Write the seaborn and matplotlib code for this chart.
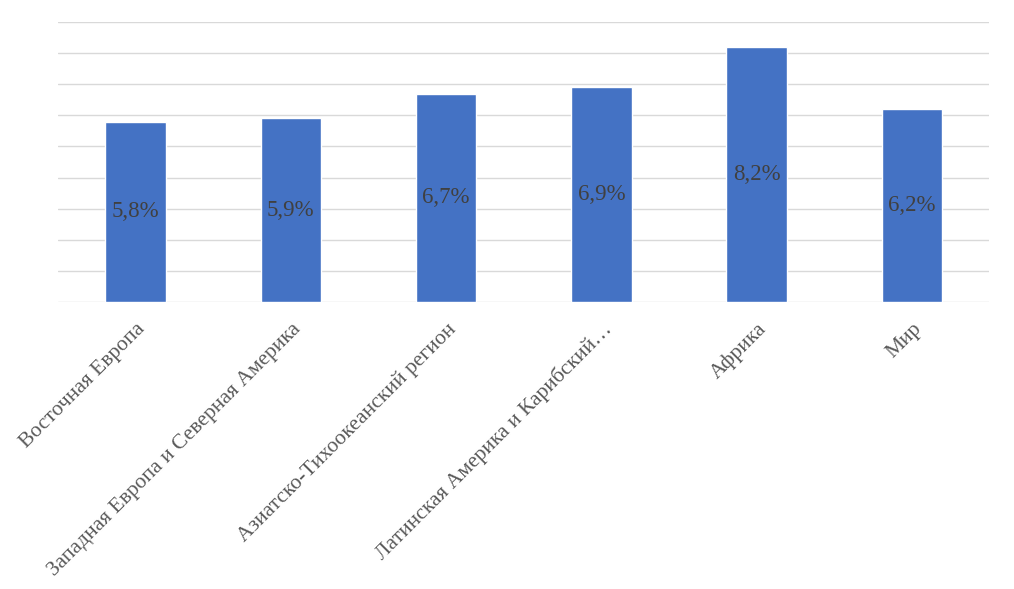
import matplotlib
matplotlib.use("Agg")
import matplotlib.pyplot as plt
import seaborn as sns
import pandas as pd

regions = [
    "Восточная Европа",
    "Западная Европа и Северная Америка",
    "Азиатско-Тихоокеанский регион",
    "Латинская Америка и Карибский…",
    "Африка",
    "Мир",
]
values = [5.8, 5.9, 6.7, 6.9, 8.2, 6.2]
value_labels = ["5,8%", "5,9%", "6,7%", "6,9%", "8,2%", "6,2%"]

sns.set_style("white")
plt.rcParams["font.family"] = ["Liberation Serif", "DejaVu Serif"]

df = pd.DataFrame({"region": regions, "value": values})

fig = plt.figure(figsize=(10.14, 5.89), dpi=100)
ax = fig.add_axes([0.0572, 0.4873, 0.9186, 0.4753])

sns.barplot(data=df, x="region", y="value", color="#4472C4", saturation=1,
            width=0.39, ax=ax, zorder=2)

ax.set_ylim(0, 9)
ax.set_xlim(-0.5, len(regions) - 0.5)
ax.set_yticks(range(0, 10))
ax.yaxis.grid(True, color="#d9d9d9", linewidth=1, zorder=0)
ax.set_axisbelow(True)
ax.tick_params(axis="y", left=False, labelleft=False)
ax.tick_params(axis="x", bottom=False, pad=9)
for s in ["top", "right", "left", "bottom"]:
    ax.spines[s].set_visible(False)

ax.set_xlabel("")
ax.set_ylabel("")
ax.set_xticks(range(len(regions)))
ax.set_xticklabels(regions, rotation=45, ha="right", rotation_mode="anchor",
                   fontsize=15.5, color="#595959")

for i, (v, lab) in enumerate(zip(values, value_labels)):
    ax.text(i, v / 2, lab, ha="center", va="center", fontsize=16.5,
            color="#404040", zorder=3)

fig.savefig("out.png", dpi=100)
